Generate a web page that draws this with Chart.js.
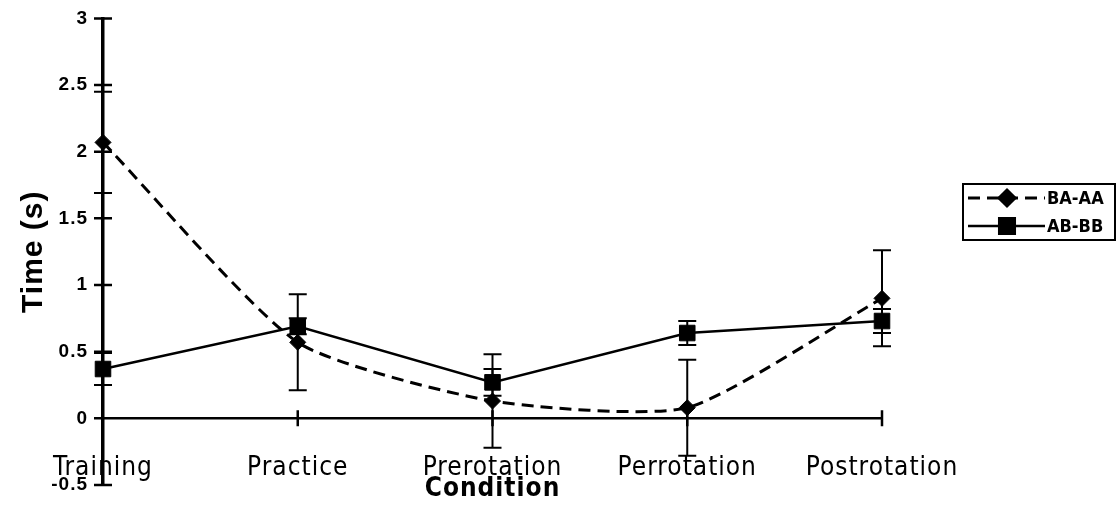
<!DOCTYPE html>
<html>
<head>
<meta charset="utf-8">
<script src="https://cdn.jsdelivr.net/npm/chart.js@4.4.1/dist/chart.umd.min.js"></script>
<style>
  body { margin: 0; background: #fff; }
  #wrap { width: 1116px; height: 505px; }
</style>
</head>
<body>
<div id="wrap"><canvas id="chart" width="1116" height="505"></canvas></div>
<script>
const conditions = ["Training", "Practice", "Prerotation", "Perrotation", "Postrotation"];
const baAA = [2.07, 0.57, 0.13, 0.08, 0.90];
const baAAErr = [0.38, 0.36, 0.35, 0.36, 0.36];
const abBB = [0.37, 0.69, 0.27, 0.64, 0.73];
const abBBErr = [0.12, 0.06, 0.10, 0.09, 0.09];
const yTicks = [-0.5, 0, 0.5, 1, 1.5, 2, 2.5, 3];

const narrow = "'Liberation Sans Narrow', 'DejaVu Sans Condensed', sans-serif";

// error bars, crossing axis ticks and the zero line
const extras = {
  id: 'extras',
  beforeDraw(chart) {
    chart.ctx.letterSpacing = '1px';
  },
  afterDatasetsDraw(chart) {
    const { ctx, scales: { x, y } } = chart;
    ctx.save();
    ctx.strokeStyle = '#000';
    ctx.lineWidth = 2.5;
    const y0 = y.getPixelForValue(0);
    ctx.beginPath();
    ctx.moveTo(x.left, y0);
    ctx.lineTo(x.right + 1, y0);
    conditions.forEach((c, i) => {
      if (i === 0) return;
      const px = x.getPixelForValue(i);
      ctx.moveTo(px, y0 - 8);
      ctx.lineTo(px, y0 + 8);
    });
    yTicks.forEach(v => {
      const py = y.getPixelForValue(v);
      ctx.moveTo(x.left - 9, py);
      ctx.lineTo(x.left + 9, py);
    });
    ctx.stroke();

    ctx.lineWidth = 2;
    [[baAA, baAAErr], [abBB, abBBErr]].forEach(([vals, errs]) => {
      vals.forEach((v, i) => {
        const px = x.getPixelForValue(i);
        const top = y.getPixelForValue(v + errs[i]);
        const bot = y.getPixelForValue(v - errs[i]);
        ctx.beginPath();
        ctx.moveTo(px, top); ctx.lineTo(px, bot);
        ctx.moveTo(px - 9, top); ctx.lineTo(px + 9, top);
        ctx.moveTo(px - 9, bot); ctx.lineTo(px + 9, bot);
        ctx.stroke();
      });
    });
    ctx.restore();
  },
  afterDraw(chart) {
    // legend box
    const ctx = chart.ctx;
    ctx.save();
    ctx.letterSpacing = '0px';
    const bx = 963, by = 184, bw = 152, bh = 56;
    ctx.strokeStyle = '#000';
    ctx.lineWidth = 2;
    ctx.strokeRect(bx, by, bw, bh);
    chart.data.datasets.forEach((ds, i) => {
      const cy = by + 14 + i * 28;
      ctx.setLineDash(ds.borderDash || []);
      ctx.lineWidth = ds.borderWidth;
      ctx.beginPath();
      ctx.moveTo(bx + 5, cy);
      ctx.lineTo(bx + 82, cy);
      ctx.stroke();
      ctx.setLineDash([]);
      Chart.helpers.drawPoint(ctx, {
        pointStyle: ds.pointStyle, radius: ds.pointRadius, borderWidth: 1
      }, bx + 44, cy);
      ctx.fillStyle = '#000';
      ctx.font = "bold 18px " + narrow;
      ctx.textBaseline = 'middle';
      ctx.fillText(ds.label, bx + 84, cy + 1);
    });
    ctx.restore();
  }
};

new Chart(document.getElementById('chart'), {
  type: 'line',
  data: {
    labels: conditions,
    datasets: [
      {
        label: 'BA-AA',
        data: baAA,
        borderColor: '#000',
        backgroundColor: '#000',
        borderWidth: 3,
        borderDash: [12, 7],
        tension: 0.2,
        pointStyle: 'rectRot',
        pointRadius: 8,
        pointBorderWidth: 1
      },
      {
        label: 'AB-BB',
        data: abBB,
        borderColor: '#000',
        backgroundColor: '#000',
        borderWidth: 2.5,
        tension: 0,
        pointStyle: 'rect',
        pointRadius: 11,
        pointBorderWidth: 1
      }
    ]
  },
  options: {
    responsive: false,
    animation: false,
    layout: { padding: { left: 0, right: 234, top: 18, bottom: 0 } },
    plugins: { legend: { display: false }, tooltip: { enabled: false } },
    scales: {
      x: {
        type: 'category',
        offset: false,
        grid: { display: false },
        border: { display: false },
        ticks: {
          color: '#000',
          mirror: true,
          padding: 1,
          maxRotation: 0,
          autoSkip: false,
          font: { family: narrow, size: 26 }
        },
        title: {
          display: true,
          text: 'Condition',
          color: '#000',
          padding: { top: 0, bottom: 0 },
          font: { family: narrow, size: 26, weight: 'bold' }
        },
        afterFit(scale) { scale.height = 20; }
      },
      y: {
        min: -0.5,
        max: 3,
        grid: { display: false },
        border: { display: true, color: '#000', width: 3.5 },
        afterBuildTicks(scale) { scale.ticks = yTicks.map(v => ({ value: v })); },
        ticks: {
          color: '#000',
          padding: 7,
          callback: v => String(v),
          font: { family: "'Liberation Sans', Arial, sans-serif", size: 19, weight: 'bold' }
        },
        title: {
          display: true,
          text: 'Time (s)',
          color: '#000',
          padding: { top: 16, bottom: 0 },
          font: { family: "'Liberation Sans', Arial, sans-serif", size: 30, weight: 'bold' }
        },
        afterFit(scale) { scale.width = 103; }
      }
    }
  },
  plugins: [extras]
});
</script>
</body>
</html>
